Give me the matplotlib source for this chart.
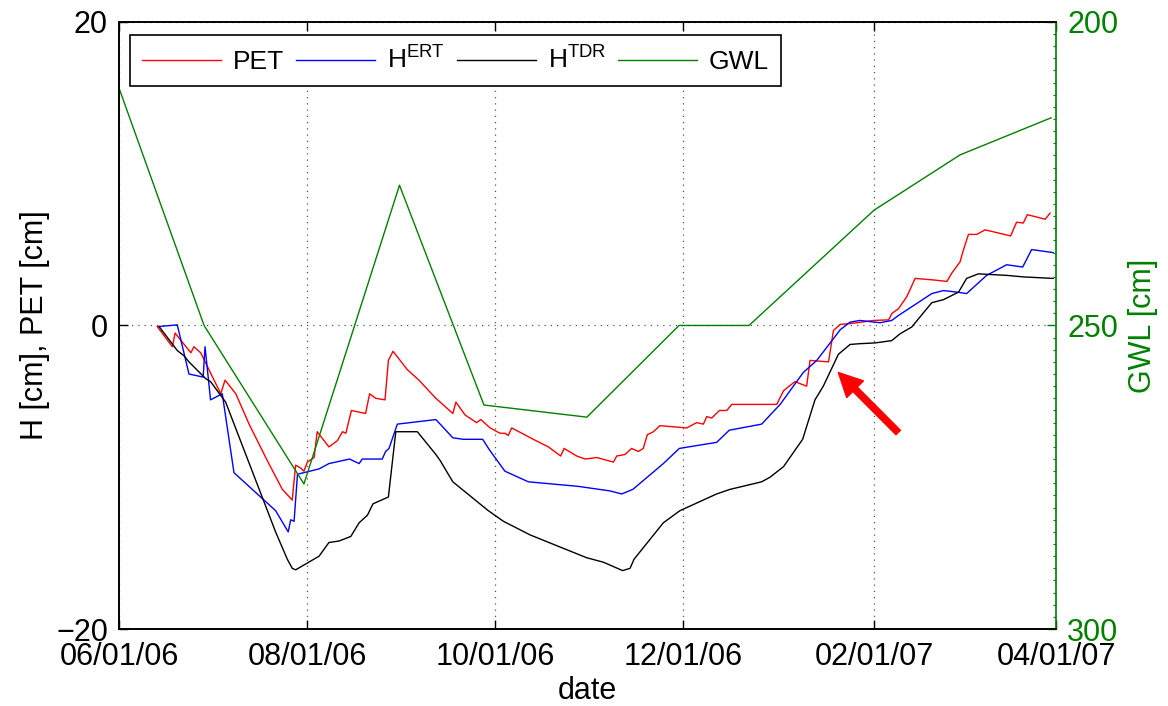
import numpy as np
import pandas as pd
import matplotlib
matplotlib.use("Agg")
import matplotlib.pyplot as plt
import matplotlib.dates as mdates
from matplotlib.ticker import MultipleLocator

plt.rcParams['font.family'] = ['Liberation Sans', 'DejaVu Sans']
plt.rcParams['mathtext.fontset'] = 'custom'
plt.rcParams['mathtext.rm'] = 'Liberation Sans'
plt.rcParams['mathtext.it'] = 'Liberation Sans:italic'

# ---- data (days after 2006-06-01) ----
start = pd.Timestamp('2006-06-01')

pet_day = [12.4, 17.3, 18.2, 23.3, 24.3, 26.5, 33.0, 34.4, 37.9, 42.2, 48.1, 53.0, 56.2,
           57.3, 59.0, 60.0, 61.1, 63.3, 64.3, 68.1, 70.8, 72.5, 73.6, 75.4, 80.0, 81.3,
           83.3, 86.3, 87.4, 88.9, 93.5, 97.3, 102.8, 104.2, 108.3, 109.3, 112.3, 116.0,
           117.4, 120.4, 123.6, 125.2, 126.3, 127.4, 130.7, 134.4, 139.3, 143.3, 144.4,
           148.5, 151.2, 155.0, 160.4, 161.5, 164.2, 166.3, 168.5, 170.1, 171.4, 173.4,
           175.5, 184.2, 187.4, 189.6, 190.7, 192.3, 194.8, 197.2, 198.8, 210.2, 213.4,
           215.6, 219.3, 223.1, 224.2, 230.2, 231.8, 234.0, 238.3, 244.8, 249.7, 250.8,
           252.9, 255.6, 258.3, 264.2, 268.6, 270.2, 272.9, 273.7, 275.6, 278.3, 281.0,
           289.3, 291.2, 293.4, 294.7, 300.5, 302.1]
pet_val = [-0.07, -1.4, -0.5, -1.8, -1.4, -1.8, -4.5, -3.6, -4.5, -6.5, -8.9, -10.8, -11.5,
           -9.2, -9.4, -9.6, -9.0, -8.7, -7.0, -8.0, -7.6, -7.0, -7.1, -5.6, -5.8, -4.5,
           -4.8, -4.9, -2.3, -1.7, -2.9, -3.6, -4.8, -5.05, -5.8, -5.05, -5.9, -6.4,
           -6.2, -6.75, -7.1, -7.1, -7.25, -6.75, -7.1, -7.5, -8.0, -8.6, -8.1,
           -8.6, -8.8, -8.7, -9.0, -8.6, -8.5, -8.1, -8.3, -8.1, -7.2, -7.0,
           -6.6, -6.75, -6.4, -6.5, -6.0, -6.1, -5.6, -5.6, -5.2, -5.2, -5.2,
           -4.3, -3.7, -4.0, -2.3, -2.4, -0.33, 0.07, 0.15, 0.33, 0.37, 0.8,
           1.1, 1.9, 3.1, 3.0, 2.9, 3.45, 4.2, 4.8, 6.0, 6.0, 6.3,
           5.9, 6.8, 6.75, 7.3, 7.0, 7.4]

ert_day = [13.0, 18.9, 22.7, 27.3, 27.9, 29.7, 33.5, 37.3, 50.8, 54.9, 55.7, 56.8, 57.9,
           64.9, 68.1, 74.8, 77.9, 78.9, 85.4, 86.5, 87.6, 90.3, 102.8, 104.2, 108.3,
           111.7, 118.0, 120.2, 125.2, 132.8, 149.0, 159.3, 163.1, 166.7, 176.6, 181.8,
           193.9, 198.0, 208.5, 214.5, 222.0, 226.4, 234.0, 237.2, 240.4, 246.9, 250.7,
           252.9, 263.7, 267.5, 271.8, 275.0, 281.5, 288.0, 293.2, 296.1, 303.1]
ert_val = [-0.07, 0.04, -3.2, -3.4, -1.4, -4.9, -4.5, -9.7, -12.2, -13.6, -12.8, -12.9, -9.8,
           -9.45, -9.1, -8.8, -9.1, -8.8, -8.8, -8.3, -8.1, -6.5, -6.2, -6.5, -7.4,
           -7.5, -7.5, -8.2, -9.6, -10.3, -10.6, -10.9, -11.1, -10.8, -9.1, -8.1,
           -7.7, -6.9, -6.5, -5.2, -3.1, -2.3, -0.28, 0.22, 0.33, 0.18, 0.33,
           0.66, 2.1, 2.3, 2.2, 2.1, 3.3, 4.0, 3.85, 5.0, 4.8]

tdr_day = [13.0, 18.9, 21.1, 22.7, 28.1, 29.7, 34.6, 36.2, 50.8, 54.6, 56.2, 57.3, 64.9,
           68.1, 71.4, 75.2, 77.9, 80.6, 82.4, 87.4, 89.8, 96.8, 102.8, 104.2, 108.3,
           119.8, 124.7, 133.4, 151.7, 157.2, 163.4, 165.8, 167.1, 176.6, 182.0, 193.9,
           198.2, 208.5, 211.2, 215.6, 221.8, 225.8, 228.5, 233.4, 237.2, 240.4, 245.3,
           250.7, 253.4, 257.2, 263.7, 267.5, 272.4, 275.0, 278.8, 288.0, 293.4, 303.1]
tdr_val = [-0.07, -1.65, -2.0, -2.4, -3.5, -3.7, -5.05, -5.9, -13.6, -15.4, -16.0, -16.1, -15.2,
           -14.3, -14.2, -13.9, -13.0, -12.5, -11.75, -11.3, -7.0, -7.0, -8.5, -8.9, -10.3,
           -12.2, -12.9, -13.8, -15.3, -15.6, -16.15, -16.0, -15.4, -13.0, -12.2, -11.1,
           -10.8, -10.3, -10.0, -9.3, -7.5, -4.9, -4.0, -1.9, -1.25, -1.2, -1.15,
           -1.0, -0.55, -0.1, 1.5, 1.7, 2.2, 3.1, 3.4, 3.3, 3.2, 3.1]

gwl_day = [0.0, 27.6, 60.0, 91.0, 118.4, 151.8, 181.7, 204.4, 245.0, 272.9, 302.4]
gwl_val = [210.9, 250.0, 276.1, 226.9, 263.1, 265.1, 250.0, 250.0, 231.0, 221.9, 215.8]

tick_dates = ['2006-06-01', '2006-08-01', '2006-10-01', '2006-12-01', '2007-02-01', '2007-04-01']

# arrow (tail -> head), days / cm
arrow_tail = (252.8, -7.05)
arrow_head = (233.4, -3.1)


def to_dates(days):
    return start + pd.to_timedelta(np.array(days), unit='D')


fig = plt.figure(figsize=(11.68, 7.06), dpi=100)
ax = fig.add_axes([0.1019, 0.109, 0.8022, 0.860])
ax2 = ax.twinx()

l1, = ax.plot(to_dates(pet_day), pet_val, color='red', lw=1.0, label='PET')
l2, = ax.plot(to_dates(ert_day), ert_val, color='blue', lw=1.0, label=r'H$^{\rm ERT}$')
l3, = ax.plot(to_dates(tdr_day), tdr_val, color='black', lw=1.0, label=r'H$^{\rm TDR}$')
l4, = ax2.plot(to_dates(gwl_day), gwl_val, color='green', lw=1.0, label='GWL')

ticks = pd.to_datetime(tick_dates)
ax.set_xlim(ticks[0], ticks[-1])
ax.set_xticks(ticks)
ax.xaxis.set_major_formatter(mdates.DateFormatter('%m/%d/%y'))
ax.set_ylim(-20, 20)
ax.set_yticks([-20, 0, 20])
ax.set_yticklabels(['\u221220', '0', '20'])
ax2.set_ylim(300, 200)
ax2.set_yticks([200, 250, 300])
ax2.yaxis.set_minor_locator(MultipleLocator(2))

ax.grid(True, linestyle=(0, (1, 4)), color='#555555', lw=0.9)

ax.tick_params(axis='both', direction='in', length=6.5, width=1.0, labelsize=22, pad=8)
ax.tick_params(axis='x', top=True, pad=9)
ax2.tick_params(axis='y', which='major', direction='in', length=6.5, width=1.0,
                labelsize=22, colors='green', pad=8)
ax2.tick_params(axis='y', which='minor', direction='in', length=2.5, width=0.8, colors='green')

for a in (ax, ax2):
    for s in a.spines.values():
        s.set_linewidth(1.2)
ax2.spines['right'].set_color('green')
ax.spines['right'].set_visible(False)

ax.set_xlabel('date', fontsize=22, labelpad=3)
ax.set_ylabel('H [cm], PET [cm]', fontsize=22, labelpad=4)
ax2.set_ylabel('GWL [cm]', fontsize=22, color='green', labelpad=7)

leg = ax2.legend(handles=[l1, l2, l3, l4], ncol=4, loc='upper left',
                 bbox_to_anchor=(0.0117, 0.9786), borderaxespad=0, fontsize=19,
                 handlelength=3.0, handletextpad=0.45, columnspacing=0.45,
                 fancybox=False, framealpha=1, edgecolor='black', borderpad=0.45)
leg.get_frame().set_linewidth(1.2)

t = mdates.date2num(start + pd.Timedelta(days=arrow_tail[0]))
h = mdates.date2num(start + pd.Timedelta(days=arrow_head[0]))
ax.annotate('', xy=(h, arrow_head[1]), xytext=(t, arrow_tail[1]),
            arrowprops=dict(facecolor='red', edgecolor='red', width=4.5,
                            headwidth=17, headlength=17))

fig.savefig('out.png', dpi=100)
